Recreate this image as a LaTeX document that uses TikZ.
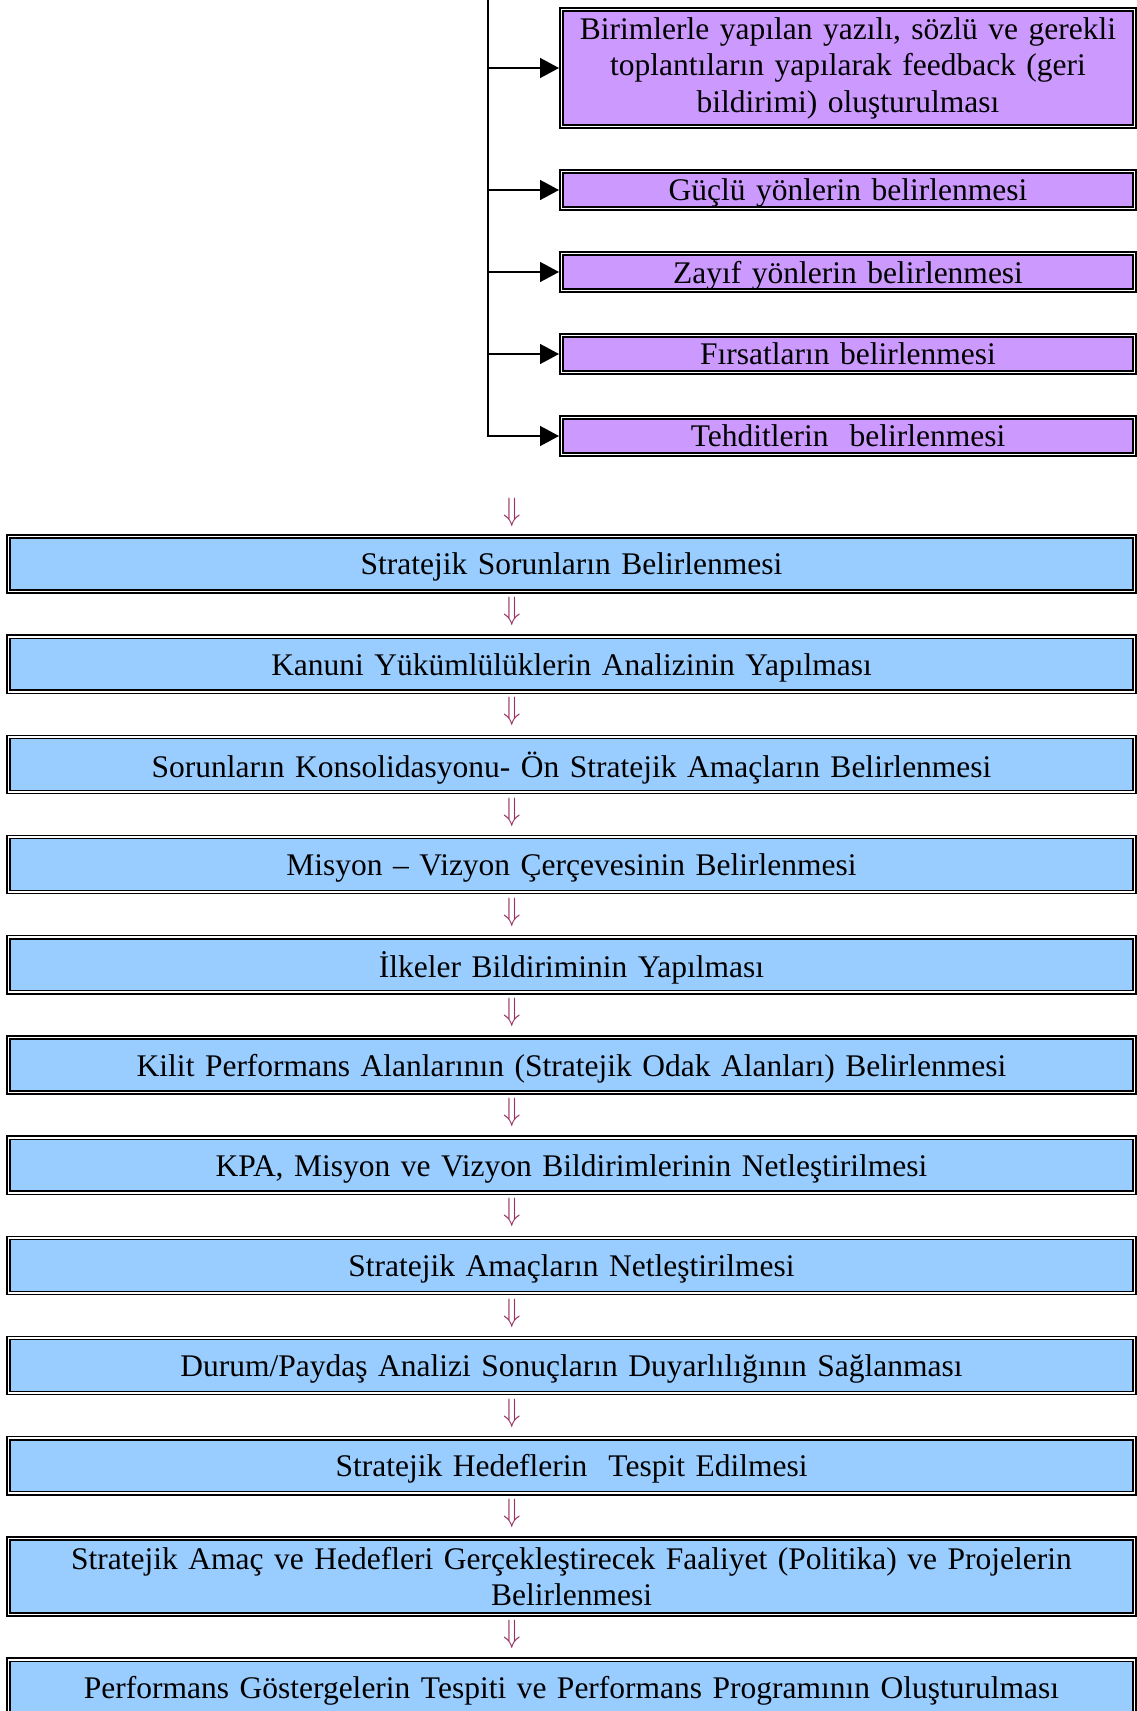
\documentclass[tikz,border=0pt]{standalone}
\usepackage{fontspec}
\setmainfont{Liberation Serif}
\usetikzlibrary{positioning,calc,arrows.meta}
\definecolor{lila}{RGB}{204,153,255}
\definecolor{mavi}{RGB}{153,204,255}
\definecolor{erik}{RGB}{153,51,102}

\begin{document}
\begin{tikzpicture}[x = 1pt, y = 1pt,
    font = \fontsize{31.5}{36.5}\selectfont,
    kutu/.style = {draw, double, double distance = 1.8pt, line width = 1.4pt, outer sep = 0pt, align = center, inner ysep = 0pt, text depth = 0pt},
    morkutu/.style = {kutu, fill = lila, text width = 550pt, inner xsep = 11.5pt, minimum height = 37pt},
    mavikutu/.style = {kutu, fill = mavi, text width = 1100pt, inner xsep = 13pt, minimum height = 55pt},
    ok/.style = {line width = 1.5pt, -{Triangle[length = 19pt, width = 20pt]}, shorten > = 2.5pt},
    asagi/.style = {text = erik, inner sep = 0pt, font = \fontsize{24.88}{26}\selectfont, xscale = 1.15, yscale = 1.3}]
    \useasboundingbox (0,0) rectangle (1137,-1711);

    % swot kutulari
    \node[morkutu, minimum height = 117pt, text depth = {}] (geri) at (848,-68) {Birimlerle yapılan yazılı, sözlü ve gerekli\\ toplantıların yapılarak feedback (geri\\ bildirimi) oluşturulması};
    \node[morkutu, below = 45pt of geri] (guclu) {Güçlü yönlerin belirlenmesi};
    \node[morkutu, below = 45pt of guclu] (zayif) {Zayıf yönlerin belirlenmesi};
    \node[morkutu, below = 45pt of zayif] (firsat) {Fırsatların belirlenmesi};
    \node[morkutu, below = 45pt of firsat] (tehdit) {Tehditlerin \ belirlenmesi};

    \coordinate (ust) at (488,2);
    \draw[ok] (ust) |- (tehdit.west);
    \foreach \k in {geri,guclu,zayif,firsat}
        \draw[ok] (ust |- \k.west) -- (\k.west);

    % adimlar
    \node[mavikutu] (a1) at (571.5,-564) {Stratejik Sorunların Belirlenmesi};
    \node[mavikutu, below = 45.2pt of a1] (a2) {Kanuni Yükümlülüklerin Analizinin Yapılması};
    \node[mavikutu, below = 45.2pt of a2] (a3) {Sorunların Konsolidasyonu- Ön Stratejik Amaçların Belirlenmesi};
    \node[mavikutu, below = 45.2pt of a3] (a4) {Misyon – Vizyon Çerçevesinin Belirlenmesi};
    \node[mavikutu, below = 45.2pt of a4] (a5) {İlkeler Bildiriminin Yapılması};
    \node[mavikutu, below = 45.2pt of a5] (a6) {Kilit Performans Alanlarının (Stratejik Odak Alanları) Belirlenmesi};
    \node[mavikutu, below = 45.2pt of a6] (a7) {KPA, Misyon ve Vizyon Bildirimlerinin Netleştirilmesi};
    \node[mavikutu, below = 45.2pt of a7] (a8) {Stratejik Amaçların Netleştirilmesi};
    \node[mavikutu, below = 45.2pt of a8] (a9) {Durum/Paydaş Analizi Sonuçların Duyarlılığının Sağlanması};
    \node[mavikutu, below = 45.2pt of a9] (a10) {Stratejik Hedeflerin \ Tespit Edilmesi};
    \node[mavikutu, below = 45.2pt of a10, minimum height = 76pt, text depth = {}] (a11) {Stratejik Amaç ve Hedefleri Gerçekleştirecek Faaliyet (Politika) ve Projelerin\\ Belirlenmesi};
    \node[mavikutu, below = 45.2pt of a11] (a12) {Performans Göstergelerin Tespiti ve Performans Programının Oluşturulması};

    % oklar
    \node[asagi] (o0) at (512,-512) {$\Downarrow$};
    \foreach \a/\b [count = \i] in {a1/a2,a2/a3,a3/a4,a4/a5,a5/a6,a6/a7,a7/a8,a8/a9,a9/a10,a10/a11,a11/a12}
        \node[asagi] (o\i) at ($(\a.south)!.5!(\b.north) + (-59.5,2.5)$) {$\Downarrow$};
\end{tikzpicture}
\end{document}
